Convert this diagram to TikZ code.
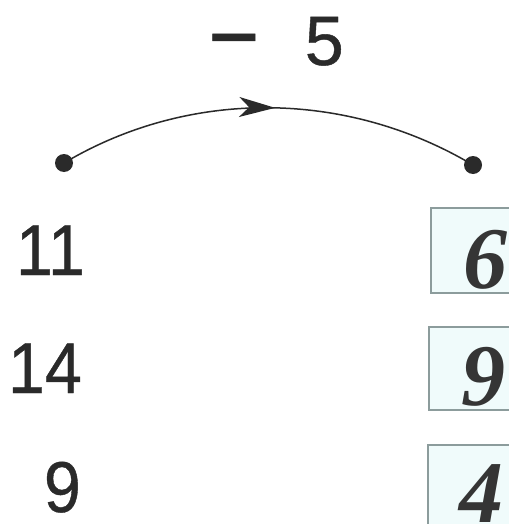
\documentclass[tikz,border=0pt]{standalone}
\usepackage{fontspec}
\setmainfont{Liberation Serif}
\setsansfont{Liberation Sans}
\newfontfamily\numfont[FakeBold=0.6]{Liberation Sans}
\usetikzlibrary{arrows.meta,decorations.markings}
\definecolor{ink}{HTML}{2A2A2A}
\definecolor{boxfill}{HTML}{F0FBFB}
\definecolor{boxline}{HTML}{8C9C9C}
\definecolor{ansink}{HTML}{353535}
\tikzset{
  dot/.style={circle,fill=ink,inner sep=0pt,minimum size=18pt},
  lefnum/.style={font=\numfont\fontsize{72}{72}\selectfont,text=ink,anchor=base east,inner sep=0pt},
  ansbox/.style={draw=boxline,line width=1.8pt,fill=boxfill},
  ansnum/.style={font=\rmfamily\bfseries\itshape\fontsize{88}{88}\selectfont,text=ansink,anchor=base west,inner sep=0pt},
  oplabel/.style={font=\numfont\fontsize{70}{70}\selectfont,text=ink,anchor=base,inner sep=0pt},
}
\begin{document}
\begin{tikzpicture}[x=1pt,y=-1pt]
\useasboundingbox (0,0) rectangle (508,524);
\fill[white] (0,0) rectangle (508,524);
% operation label
\node[oplabel] (op) at (276,65) {\raisebox{-5pt}{\scalebox{1.25}[1.4]{−}}\hspace{0.65em}5};
% dots
\node[dot] (L) at (64,163) {};
\node[dot] (R) at (473,165) {};
% arc with arrow
\draw[ink,line width=1.5pt,
  postaction={decorate},
  decoration={markings,mark=at position 0.515 with {\arrow{Stealth[length=36pt,width=20pt,inset=10pt]}}}]
  (L.center) .. controls (190,88) and (347,90) .. (R.center);
% left numbers
\node[lefnum] (n11) at (85,275) {\scalebox{0.92}[1]{11}};
\node[lefnum] (n14) at (82,393) {\scalebox{0.92}[1]{14}};
\node[lefnum] (n9)  at (81,512) {\scalebox{0.92}[1]{9}};
% answer boxes
\path[ansbox] (431,208) rectangle (520,293);
\path[ansbox] (429,327) rectangle (520,410);
\path[ansbox] (428,445) rectangle (520,540);
\node[ansnum] (a6) at (463,288) {6};
\node[ansnum] (a9) at (461,405) {9};
\node[ansnum] (a4) at (459,522) {4};
\end{tikzpicture}
\end{document}
